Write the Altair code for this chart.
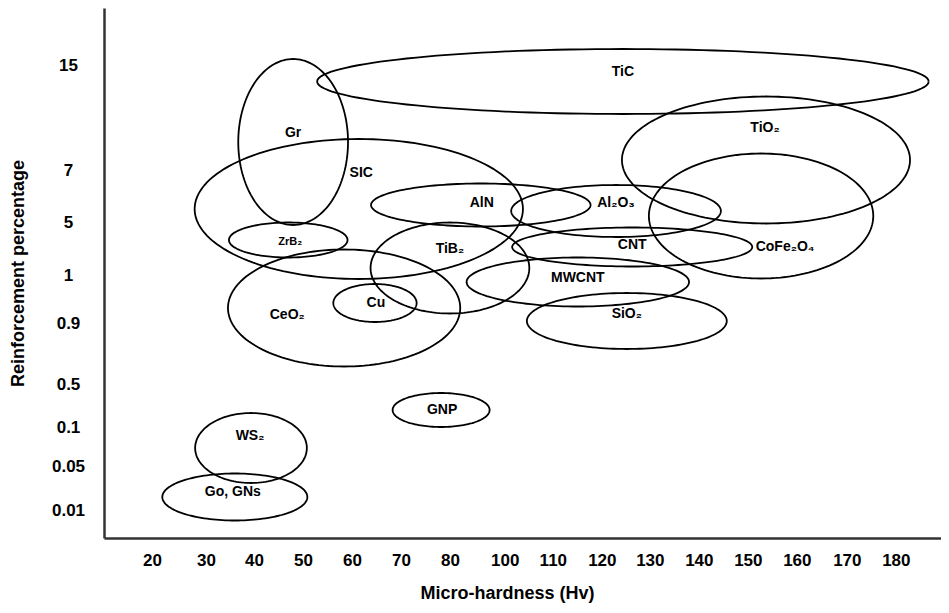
import numpy as np
import pandas as pd
import altair as alt

# ---- data (axis units) ----
NAMES = ["Gr", "TiC", "SiC", "AlN", "Al2O3", "TiO2", "CoFe2O4", "CNT", "MWCNT",
         "SiO2", "TiB2", "ZrB2", "CeO2", "Cu", "GNP", "WS2", "GoGNs"]
LABELS = ["Gr", "TiC", "SIC", "AlN", "Al₂O₃", "TiO₂", "CoFe₂O₄", "CNT", "MWCNT",
          "SiO₂", "TiB₂", "ZrB₂", "CeO₂", "Cu", "GNP", "WS₂", "Go, GNs"]
CX = [48.8, 116.1, 62.2, 87.1, 114.7, 145.3, 144.3, 118.0, 106.9,
      116.9, 80.8, 47.8, 59.2, 65.5, 79.0, 40.2, 36.9]
CY = [39.6, 45.65, 32.9, 33.3, 32.7, 37.8, 32.2, 29.1, 25.6,
      21.7, 27.0, 29.8, 23.0, 23.5, 12.8, 9.0, 4.1]
RX = [11.2, 62.4, 33.5, 22.4, 21.4, 29.4, 22.9, 24.5, 22.7,
      20.4, 16.2, 12.1, 23.7, 8.5, 9.9, 11.4, 14.8]
RY = [8.3, 3.25, 7.0, 2.15, 2.6, 6.35, 6.25, 1.95, 2.45,
      2.8, 4.55, 1.75, 5.85, 1.9, 1.7, 3.5, 2.35]
LX = [48.8, 116.1, 62.7, 87.3, 114.7, 145.1, 149.2, 118.0, 106.9,
      116.9, 80.8, 48.2, 47.6, 65.7, 79.2, 40.0, 36.5]
LY = [40.5, 46.6, 36.5, 33.5, 33.5, 41.0, 29.1, 29.3, 26.0,
      22.4, 28.9, 29.6, 22.3, 23.5, 12.8, 10.2, 4.6]

X_TICK_LABELS = ["20", "30", "40", "50", "60", "70", "80", "100", "110", "120",
                 "130", "140", "150", "160", "170", "180"]
X_TICK_POS = [20.0, 31.0, 40.8, 50.8, 60.8, 70.8, 80.8, 92.0, 101.8, 111.8,
              121.6, 131.6, 141.6, 151.6, 161.8, 171.8]
Y_TICK_LABELS = ["0.01", "0.05", "0.1", "0.5", "0.9", "1", "5", "7", "15"]
Y_TICK_POS = [2.8, 7.2, 11.1, 15.4, 21.5, 26.3, 31.6, 36.8, 47.3]

# ---- ellipse outlines ----
t = np.linspace(0, 2 * np.pi, 145)
rows = []
for n, cx, cy, rx, ry in zip(NAMES, CX, CY, RX, RY):
    for i, tt in enumerate(t):
        rows.append({"name": n, "i": i, "x": cx + rx * np.cos(tt), "y": cy + ry * np.sin(tt)})
outline = pd.DataFrame(rows)
labels = pd.DataFrame({"name": NAMES, "label": LABELS, "x": LX, "y": LY})

def lookup_expr(pos, labs):
    return "[" + ",".join("'%s'" % s for s in labs) + "][indexof([" + ",".join(str(p) for p in pos) + "], datum.value)]"

FONT = "Liberation Sans"
xscale = alt.Scale(domain=[10.2, 181.02], nice=False, zero=False)
yscale = alt.Scale(domain=[0, 53], nice=False, zero=False)

xaxis = alt.Axis(values=X_TICK_POS, labelExpr=lookup_expr(X_TICK_POS, X_TICK_LABELS),
                 title="Micro-hardness (Hv)", grid=False, ticks=False, tickSize=0,
                 domainColor="#333333", domainWidth=2.5,
                 labelFont=FONT, labelFontWeight="bold", labelFontSize=17, labelColor="black",
                 labelBaseline="middle", labelPadding=22, labelFlush=False, labelOverlap=False,
                 titleFont=FONT, titleFontWeight="bold", titleFontSize=18, titleColor="black",
                 titleX=403, titleY=55, titleBaseline="middle", titleAlign="center")
yaxis = alt.Axis(values=Y_TICK_POS, labelExpr=lookup_expr(Y_TICK_POS, Y_TICK_LABELS),
                 title="Reinforcement percentage", grid=False, ticks=False, tickSize=0,
                 domainColor="#333333", domainWidth=2.5,
                 labelFont=FONT, labelFontWeight="bold", labelFontSize=17, labelColor="black",
                 labelAlign="center", labelBaseline="middle", labelPadding=36,
                 labelFlush=False, labelOverlap=False,
                 titleFont=FONT, titleFontWeight="bold", titleFontSize=18, titleColor="black",
                 titleX=-86, titleY=265, titleAngle=270, titleBaseline="middle", titleAlign="center")

lines = alt.Chart(outline).mark_line(color="black", strokeWidth=1.8).encode(
    x=alt.X("x:Q", scale=xscale, axis=xaxis),
    y=alt.Y("y:Q", scale=yscale, axis=yaxis),
    detail="name:N",
    order="i:Q",
)

text = alt.Chart(labels).mark_text(font=FONT, fontWeight="bold", color="black",
                                   align="center", baseline="middle").encode(
    x=alt.X("x:Q", scale=xscale),
    y=alt.Y("y:Q", scale=yscale),
    text="label:N",
    size=alt.condition("datum.name == 'ZrB2'", alt.value(11), alt.value(14)),
)

chart = (lines + text).properties(
    width=837, height=530,
    padding={"left": 96, "top": 0, "right": 0, "bottom": 66},
    autosize=alt.AutoSizeParams(type="none"),
).configure_view(stroke=None)

chart.save("out.html", embed_options={"renderer": "svg", "actions": False})
